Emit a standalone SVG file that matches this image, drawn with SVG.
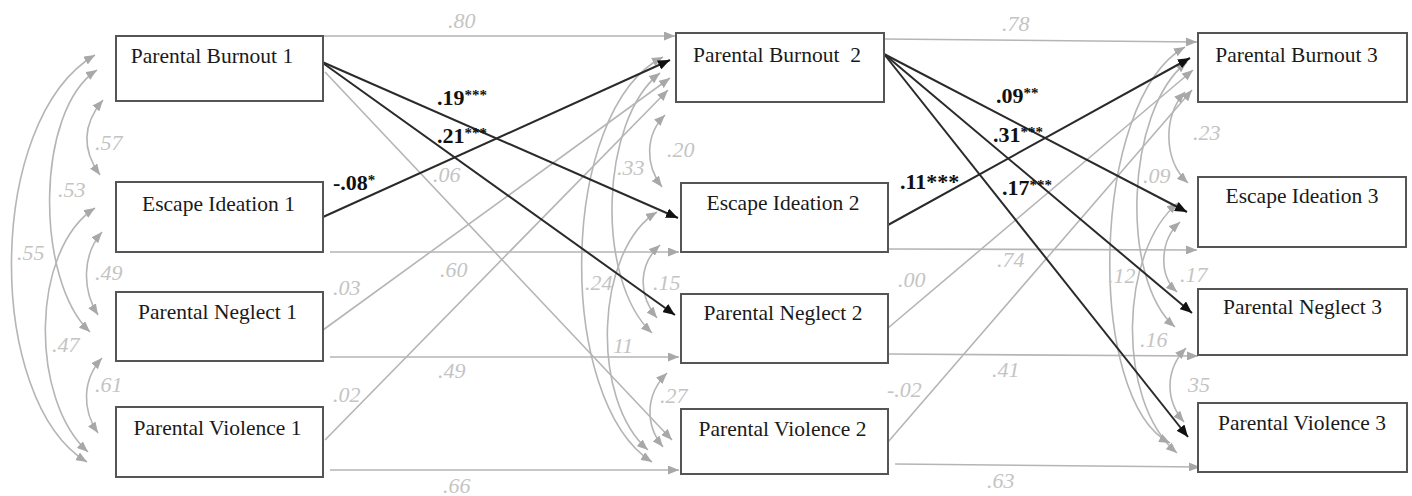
<svg xmlns="http://www.w3.org/2000/svg" width="1412" height="496" viewBox="0 0 1412 496">
<style>
.box{fill:#fff;stroke:#555;stroke-width:2}
.nt{font-family:"Liberation Serif","Times New Roman",serif;font-size:21.5px;fill:#1a1a1a;text-anchor:middle}
.g{fill:none;stroke:#b5b5b5;stroke-width:1.6}
.k{fill:none;stroke:#2a2a2a;stroke-width:2}
.gl{font-family:"Liberation Serif","Times New Roman",serif;font-size:22px;font-style:italic;fill:#c4c4c4}
.bl{font-family:"Liberation Serif","Times New Roman",serif;font-size:22px;font-weight:bold;fill:#111}
.sup{font-size:15px}
</style>
<defs>
<marker id="ag" viewBox="0 0 11 9" refX="11" refY="4.5" markerWidth="11" markerHeight="9" markerUnits="userSpaceOnUse" orient="auto-start-reverse"><path d="M0,0 L11,4.5 L0,9 z" fill="#a8a8a8"/></marker>
<marker id="ak" viewBox="0 0 12 10" refX="12" refY="5" markerWidth="12" markerHeight="10" markerUnits="userSpaceOnUse" orient="auto"><path d="M0,0 L12,5 L0,10 z" fill="#111"/></marker>
</defs>
<rect width="1412" height="496" fill="#fff"/>
<g id="connectors">
<path class="g" d="M323,36 L675,36" marker-end="url(#ag)"/>
<path class="g" d="M884,39 L1197,42" marker-end="url(#ag)"/>
<path class="g" d="M330,252 L679,252" marker-end="url(#ag)"/>
<path class="g" d="M888,249 L1197,250" marker-end="url(#ag)"/>
<path class="g" d="M330,357 L679,357" marker-end="url(#ag)"/>
<path class="g" d="M888,354 L1198,356" marker-end="url(#ag)"/>
<path class="g" d="M330,470 L679,470" marker-end="url(#ag)"/>
<path class="g" d="M895,464 L1200,467" marker-end="url(#ag)"/>
<path class="g" d="M325,72 L672,440" marker-end="url(#ag)"/>
<path class="g" d="M323,330 L670,78" marker-end="url(#ag)"/>
<path class="g" d="M325,440 L668,90" marker-end="url(#ag)"/>
<path class="g" d="M888,328 L1193,70" marker-end="url(#ag)"/>
<path class="g" d="M888,442 L1192,90" marker-end="url(#ag)"/>
<path class="g" d="M103,100 C82,125 82,150 100,175" marker-start="url(#ag)" marker-end="url(#ag)"/>
<path class="g" d="M102,232 C82,255 82,290 98,315" marker-start="url(#ag)" marker-end="url(#ag)"/>
<path class="g" d="M102,358 C82,380 82,410 98,433" marker-start="url(#ag)" marker-end="url(#ag)"/>
<path class="g" d="M97,70 C35,110 35,280 90,332" marker-start="url(#ag)" marker-end="url(#ag)"/>
<path class="g" d="M95,208 C30,250 30,400 88,452" marker-start="url(#ag)" marker-end="url(#ag)"/>
<path class="g" d="M95,55 C-15,120 -15,400 87,462" marker-start="url(#ag)" marker-end="url(#ag)"/>
<path class="g" d="M665,115 C645,135 645,165 662,187" marker-start="url(#ag)" marker-end="url(#ag)"/>
<path class="g" d="M660,245 C638,265 638,295 657,318" marker-start="url(#ag)" marker-end="url(#ag)"/>
<path class="g" d="M667,373 C645,395 645,425 663,447" marker-start="url(#ag)" marker-end="url(#ag)"/>
<path class="g" d="M660,73 C600,120 595,280 652,333" marker-start="url(#ag)" marker-end="url(#ag)"/>
<path class="g" d="M657,212 C595,250 590,400 648,450" marker-start="url(#ag)" marker-end="url(#ag)"/>
<path class="g" d="M663,57 C558,110 555,400 652,462" marker-start="url(#ag)" marker-end="url(#ag)"/>
<path class="g" d="M1185,92 C1163,115 1163,160 1188,183" marker-start="url(#ag)" marker-end="url(#ag)"/>
<path class="g" d="M1180,222 C1160,240 1158,275 1177,292" marker-start="url(#ag)" marker-end="url(#ag)"/>
<path class="g" d="M1186,348 C1165,370 1165,400 1184,422" marker-start="url(#ag)" marker-end="url(#ag)"/>
<path class="g" d="M1187,62 C1125,110 1120,280 1175,327" marker-start="url(#ag)" marker-end="url(#ag)"/>
<path class="g" d="M1178,203 C1120,250 1115,400 1177,453" marker-start="url(#ag)" marker-end="url(#ag)"/>
<path class="g" d="M1185,47 C1090,100 1085,400 1170,443" marker-start="url(#ag)" marker-end="url(#ag)"/>
<path class="k" d="M320,61 L678,218" marker-end="url(#ak)"/>
<path class="k" d="M320,61 L675,315" marker-end="url(#ak)"/>
<path class="k" d="M323,217 L670,60" marker-end="url(#ak)"/>
<path class="k" d="M884,54 L1187,212" marker-end="url(#ak)"/>
<path class="k" d="M884,54 L1192,313" marker-end="url(#ak)"/>
<path class="k" d="M884,54 L1188,437" marker-end="url(#ak)"/>
<path class="k" d="M888,225 L1190,58" marker-end="url(#ak)"/>
</g>
<g id="labels">
<text class="gl" x="448" y="28">.80</text>
<text class="gl" x="1002" y="31">.78</text>
<text class="gl" x="433" y="182">.06</text>
<text class="gl" x="440" y="277">.60</text>
<text class="gl" x="333" y="295">.03</text>
<text class="gl" x="438" y="378">.49</text>
<text class="gl" x="333" y="402">.02</text>
<text class="gl" x="443" y="493">.66</text>
<text class="gl" x="95" y="150">.57</text>
<text class="gl" x="58" y="197">.53</text>
<text class="gl" x="17" y="260">.55</text>
<text class="gl" x="95" y="280">.49</text>
<text class="gl" x="52" y="352">.47</text>
<text class="gl" x="95" y="392">.61</text>
<text class="gl" x="617" y="175">.33</text>
<text class="gl" x="667" y="157">.20</text>
<text class="gl" x="585" y="290">.24</text>
<text class="gl" x="653" y="290">.15</text>
<text class="gl" x="613" y="353">11</text>
<text class="gl" x="660" y="403">.27</text>
<text class="gl" x="898" y="287">.00</text>
<text class="gl" x="887" y="397">-.02</text>
<text class="gl" x="997" y="267">.74</text>
<text class="gl" x="992" y="377">.41</text>
<text class="gl" x="987" y="488">.63</text>
<text class="gl" x="1193" y="140">.23</text>
<text class="gl" x="1143" y="183">.09</text>
<text class="gl" x="1108" y="283">.12</text>
<text class="gl" x="1180" y="282">.17</text>
<text class="gl" x="1140" y="347">.16</text>
<text class="gl" x="1188" y="392">35</text>
<text class="bl" x="437" y="105">.19<tspan class="sup" dy="-5">***</tspan></text>
<text class="bl" x="437" y="143">.21<tspan class="sup" dy="-5">***</tspan></text>
<text class="bl" x="333" y="190">-.08<tspan class="sup" dy="-5">*</tspan></text>
<text class="bl" x="996" y="103">.09<tspan class="sup" dy="-5">**</tspan></text>
<text class="bl" x="993" y="142">.31<tspan class="sup" dy="-5">***</tspan></text>
<text class="bl" x="1002" y="195">.17<tspan class="sup" dy="-5">***</tspan></text>
<text class="bl" x="900" y="189">.11***</text>
</g>
<g id="node-pb1"><rect class="box" x="116" y="36" width="207" height="65"/><text class="nt" x="212" y="63">Parental Burnout 1</text></g>
<g id="node-ei1"><rect class="box" x="116" y="182" width="207" height="70"/><text class="nt" x="218.5" y="211">Escape Ideation 1</text></g>
<g id="node-pn1"><rect class="box" x="116" y="292" width="207" height="69"/><text class="nt" x="217.5" y="319">Parental Neglect 1</text></g>
<g id="node-pv1"><rect class="box" x="116" y="407" width="207" height="70"/><text class="nt" x="217.5" y="435">Parental Violence 1</text></g>
<g id="node-pb2"><rect class="box" x="676" y="33" width="208" height="69"/><text class="nt" x="777" y="62" xml:space="preserve">Parental Burnout  2</text></g>
<g id="node-ei2"><rect class="box" x="681" y="183" width="207" height="69"/><text class="nt" x="783" y="210">Escape Ideation 2</text></g>
<g id="node-pn2"><rect class="box" x="681" y="294" width="207" height="69"/><text class="nt" x="783" y="320">Parental Neglect 2</text></g>
<g id="node-pv2"><rect class="box" x="681" y="409" width="207" height="65"/><text class="nt" x="782.5" y="436">Parental Violence 2</text></g>
<g id="node-pb3"><rect class="box" x="1198" y="33" width="209" height="69"/><text class="nt" x="1296.5" y="62">Parental Burnout 3</text></g>
<g id="node-ei3"><rect class="box" x="1198" y="177" width="208" height="70"/><text class="nt" x="1302" y="203">Escape Ideation 3</text></g>
<g id="node-pn3"><rect class="box" x="1198" y="289" width="209" height="66"/><text class="nt" x="1302.5" y="314">Parental Neglect 3</text></g>
<g id="node-pv3"><rect class="box" x="1198" y="403" width="209" height="69"/><text class="nt" x="1302" y="430">Parental Violence 3</text></g>
</svg>
